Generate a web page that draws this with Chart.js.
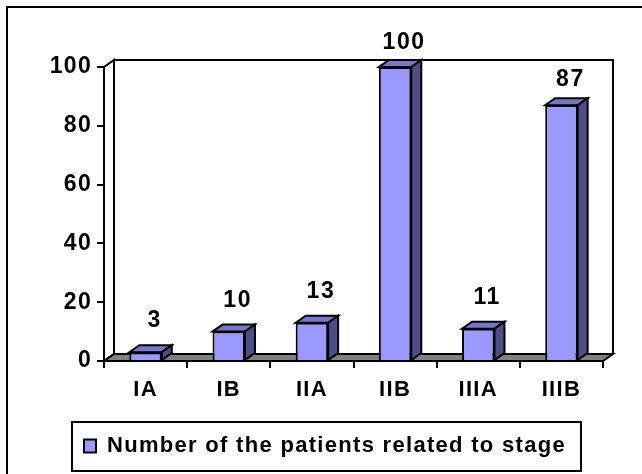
<!DOCTYPE html>
<html><head><meta charset="utf-8">
<script src="https://cdn.jsdelivr.net/npm/chart.js@4/dist/chart.umd.min.js"></script>
<style>html,body{margin:0;padding:0;background:#fff;overflow:hidden}</style>
</head><body><canvas id="c" width="642" height="474"></canvas>
<script>
const categories = ['IA', 'IB', 'IIA', 'IIB', 'IIIA', 'IIIB'];
const patients = [3, 10, 13, 100, 11, 87];
const yTickValues = [0, 20, 40, 60, 80, 100];
const seriesLabel = 'Number of the patients related to stage';

const FONT = "'Liberation Sans', Arial, Helvetica, sans-serif";
const SPACING = '1.3px';
const DX = 10, DY = -7;
const FRONT = '#9999FF', TOPC = '#7777CC', SIDE = '#4E4E86', FLOOR = '#808080';

const threeD = {
  id: 'threeD',
  beforeUpdate(chart) { chart.ctx.letterSpacing = SPACING; },
  afterLayout(chart) {
    if (chart.legend) { chart.legend.left = 74; }
  },
  beforeDraw(chart) {
    const ctx = chart.ctx, a = chart.chartArea;
    ctx.letterSpacing = SPACING;
    ctx.save();
    ctx.fillStyle = '#fff';
    ctx.fillRect(0, 0, chart.width, chart.height);
    ctx.lineWidth = 2; ctx.strokeStyle = '#000';
    ctx.strokeRect(7, 7, chart.width + 20, chart.height + 20);
    const L = a.left, R = a.right, T = a.top, B = a.bottom;
    ctx.fillStyle = '#fff';
    ctx.beginPath(); ctx.rect(L + DX, T + DY, R - L, B - T); ctx.fill(); ctx.stroke();
    ctx.beginPath(); ctx.moveTo(L, T); ctx.lineTo(L + DX, T + DY); ctx.lineTo(L + DX, B + DY); ctx.lineTo(L, B); ctx.closePath(); ctx.fill(); ctx.stroke();
    ctx.fillStyle = FLOOR;
    ctx.beginPath(); ctx.moveTo(L, B); ctx.lineTo(R, B); ctx.lineTo(R + DX, B + DY); ctx.lineTo(L + DX, B + DY); ctx.closePath(); ctx.fill(); ctx.stroke();
    ctx.restore();
  },
  afterDatasetsDraw(chart) {
    const ctx = chart.ctx, a = chart.chartArea;
    const meta = chart.getDatasetMeta(0);
    const H = a.bottom - a.top;
    ctx.save();
    ctx.lineWidth = 2; ctx.strokeStyle = '#000'; ctx.lineJoin = 'miter';
    meta.data.forEach((el) => {
      const x0 = el.x - el.width / 2, x1 = el.x + el.width / 2, top = el.y, base = el.base;
      ctx.fillStyle = TOPC;
      ctx.beginPath(); ctx.moveTo(x0, top); ctx.lineTo(x1, top); ctx.lineTo(x1 + DX, top + DY); ctx.lineTo(x0 + DX, top + DY); ctx.closePath(); ctx.fill(); ctx.stroke();
      ctx.fillStyle = SIDE;
      ctx.beginPath(); ctx.moveTo(x1, top); ctx.lineTo(x1 + DX, top + DY); ctx.lineTo(x1 + DX, base + DY); ctx.lineTo(x1, base); ctx.closePath(); ctx.fill(); ctx.stroke();
    });
    ctx.font = 'bold 23px ' + FONT;
    ctx.letterSpacing = '1.6px';
    ctx.fillStyle = '#000'; ctx.textAlign = 'center'; ctx.textBaseline = 'middle';
    meta.data.forEach((el, i) => {
      const h = el.base - el.y;
      const off = 32 - 8 * h / H;
      ctx.fillText(String(chart.data.datasets[0].data[i]), el.x + 9, el.y - off);
    });
    ctx.restore();
  },
  afterDraw(chart) {
    const lg = chart.legend;
    if (!lg || !lg.legendHitBoxes || !lg.legendHitBoxes.length) return;
    const hb = lg.legendHitBoxes[0];
    const ctx = chart.ctx;
    ctx.save();
    ctx.lineWidth = 2; ctx.strokeStyle = '#000';
    const l = hb.left - 12, t = hb.top - 13, r = hb.left + hb.width + 15, b = hb.top + hb.height + 14;
    ctx.strokeRect(l, t, r - l, b - t);
    ctx.restore();
  }
};

new Chart(document.getElementById('c'), {
  type: 'bar',
  data: {
    labels: categories,
    datasets: [{
      label: seriesLabel,
      data: patients,
      backgroundColor: FRONT,
      borderColor: '#000',
      borderWidth: 2,
      barPercentage: 0.39,
      categoryPercentage: 1
    }]
  },
  options: {
    responsive: false,
    devicePixelRatio: 1,
    animation: false,
    layout: { padding: { left: 0, right: 39, top: 67, bottom: 7 } },
    scales: {
      x: {
        offset: true,
        grid: { display: true, drawOnChartArea: false, drawTicks: true, tickLength: 7, color: '#000', lineWidth: 2, offset: true },
        border: { display: true, color: '#000', width: 2 },
        ticks: { color: '#000', font: { family: FONT, size: 22, weight: 'bold' }, padding: 9, maxRotation: 0, autoSkip: false },
        afterFit(s) { s.height = 64; }
      },
      y: {
        min: 0, max: 100,
        afterBuildTicks(s) { s.ticks = yTickValues.map(v => ({ value: v })); },
        grid: { display: true, drawOnChartArea: false, drawTicks: true, tickLength: 7, color: '#000', lineWidth: 2 },
        border: { display: true, color: '#000', width: 2 },
        ticks: { color: '#000', font: { family: FONT, size: 23, weight: 'bold' }, padding: 5 },
        afterFit(s) { s.width = 104; }
      }
    },
    plugins: {
      legend: {
        display: true, position: 'bottom', align: 'start',
        labels: { color: '#000', font: { family: FONT, size: 22, weight: 'bold' }, boxWidth: 12, boxHeight: 13, padding: 10 }
      },
      tooltip: { enabled: false }
    }
  },
  plugins: [threeD]
});
</script>
</body></html>
